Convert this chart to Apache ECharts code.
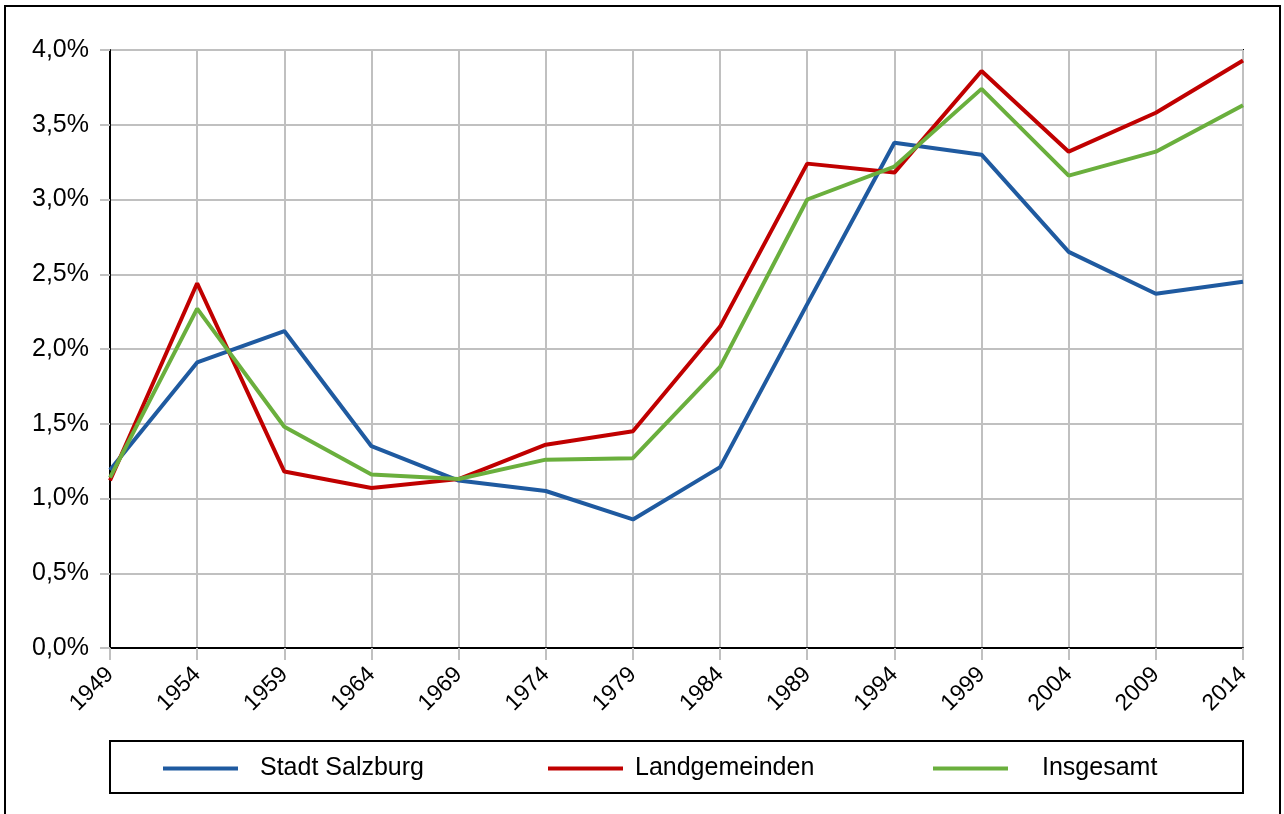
<!DOCTYPE html>
<html>
<head>
<meta charset="utf-8">
<script src="https://cdn.jsdelivr.net/npm/echarts@6/dist/echarts.min.js"></script>
<style>
  html, body { margin: 0; padding: 0; background: #fff; }
  #main { width: 1284px; height: 814px; }
</style>
</head>
<body>
<div id="main"></div>
<script>
// Jahre und Werte (Prozent)
var years = ['1949', '1954', '1959', '1964', '1969', '1974', '1979', '1984', '1989', '1994', '1999', '2004', '2009', '2014'];
var stadtSalzburg = [1.19, 1.91, 2.12, 1.35, 1.12, 1.05, 0.86, 1.21, 2.30, 3.38, 3.30, 2.65, 2.37, 2.45];
var landgemeinden = [1.12, 2.44, 1.18, 1.07, 1.13, 1.36, 1.45, 2.15, 3.24, 3.18, 3.86, 3.32, 3.58, 3.93];
var insgesamt = [1.14, 2.27, 1.48, 1.16, 1.13, 1.26, 1.27, 1.88, 3.00, 3.22, 3.74, 3.16, 3.32, 3.63];

var fontFam = '"Liberation Sans", Arial, sans-serif';
var gridGray = '#c0c0c0';

var chart = echarts.init(document.getElementById('main'));

function legendItem(name, left, gap) {
  return {
    data: [name],
    left: left,
    top: 756,
    padding: 0,
    icon: 'rect',
    itemWidth: 75,
    itemHeight: 4,
    selectedMode: false,
    textStyle: {
      fontFamily: fontFam,
      fontSize: 25,
      color: '#000',
      padding: [0, 0, 0, gap]
    }
  };
}

var option = {
  backgroundColor: '#fff',
  animation: false,
  grid: {
    left: 110,
    right: 41,
    top: 50,
    bottom: 166,
    show: true,
    borderColor: '#000',
    borderWidth: 2
  },
  legend: [
    legendItem('Stadt Salzburg', 163, 17),
    legendItem('Landgemeinden', 548, 7),
    legendItem('Insgesamt', 933, 29)
  ],
  graphic: [
    {
      type: 'rect',
      shape: { x: 5, y: 6, width: 1275, height: 820 },
      style: { fill: 'none', stroke: '#000', lineWidth: 2 },
      z: 100
    },
    {
      type: 'rect',
      shape: { x: 110, y: 741, width: 1133, height: 52 },
      style: { fill: 'none', stroke: '#000', lineWidth: 2 },
      z: 100
    }
  ],
  xAxis: {
    type: 'category',
    data: years,
    boundaryGap: false,
    axisLine: { lineStyle: { color: '#000', width: 2 } },
    axisTick: { show: true, length: 12, lineStyle: { color: gridGray, width: 2 } },
    splitLine: { show: true, lineStyle: { color: gridGray, width: 2 } },
    axisLabel: {
      rotate: 45,
      margin: 23,
      fontFamily: fontFam,
      fontSize: 23,
      color: '#000'
    }
  },
  yAxis: {
    type: 'value',
    min: 0,
    max: 4,
    interval: 0.5,
    axisLine: { show: true, lineStyle: { color: '#000', width: 2 } },
    axisTick: { show: true, length: 10, lineStyle: { color: gridGray, width: 2 } },
    splitLine: { show: true, lineStyle: { color: gridGray, width: 2 } },
    axisLabel: {
      margin: 21,
      padding: [8, 0, 0, 0],
      fontFamily: fontFam,
      fontSize: 25,
      color: '#000',
      formatter: function (v) { return v.toFixed(1).replace('.', ',') + '%'; }
    }
  },
  series: [
    {
      name: 'Stadt Salzburg',
      type: 'line',
      data: stadtSalzburg,
      symbol: 'none',
      color: '#1f5aa0',
      lineStyle: { width: 4, color: '#1f5aa0' }
    },
    {
      name: 'Landgemeinden',
      type: 'line',
      data: landgemeinden,
      symbol: 'none',
      color: '#c00000',
      lineStyle: { width: 4, color: '#c00000' }
    },
    {
      name: 'Insgesamt',
      type: 'line',
      data: insgesamt,
      symbol: 'none',
      color: '#6aaf3d',
      lineStyle: { width: 4, color: '#6aaf3d' }
    }
  ]
};

chart.setOption(option);
</script>
</body>
</html>
